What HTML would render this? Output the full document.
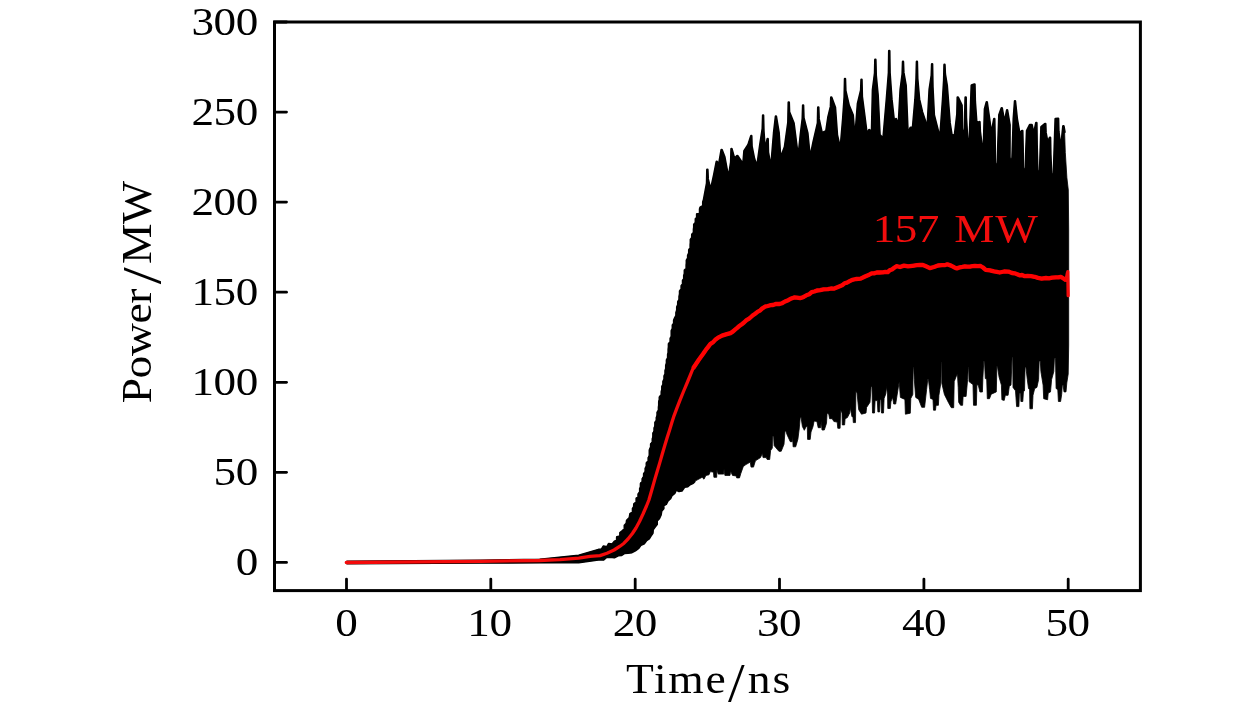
<!DOCTYPE html>
<html lang="en"><head><meta charset="utf-8"><title>Power vs Time</title>
<style>
html,body{margin:0;padding:0;background:#fff;}
body{width:1260px;height:709px;overflow:hidden;}
svg{display:block;}
text{font-family:"Liberation Serif","DejaVu Serif",serif;fill:#000;}
</style></head><body>
<svg width="1260" height="709" viewBox="0 0 1260 709">
<rect width="1260" height="709" fill="#fff"/>
<polygon points="346.5,561.6 480.0,560.6 540.0,559.4 578.7,555.5 598.5,549.6 601.6,549.2 603.4,546.2 607.1,547.0 608.7,543.7 612.3,544.2 614.3,541.7 616.8,540.2 616.9,537.0 620.1,536.1 620.1,532.7 622.2,531.0 624.5,528.9 624.5,525.5 626.4,523.4 626.8,520.5 629.5,517.7 630.1,513.8 632.7,512.0 632.7,508.6 633.9,506.8 634.0,504.0 636.4,502.0 636.4,498.3 638.3,497.0 638.3,494.0 639.9,491.8 639.9,488.4 640.9,486.7 640.9,483.5 642.7,481.8 642.7,478.8 644.0,476.7 644.0,474.0 645.7,471.6 645.7,468.2 646.8,466.2 646.8,463.0 648.7,461.0 648.7,457.7 649.8,455.6 649.8,452.4 649.8,449.9 651.0,447.3 651.0,444.3 652.8,442.0 652.8,438.7 653.4,436.4 653.4,433.2 654.6,431.0 654.6,428.0 655.4,425.6 655.4,422.5 656.8,420.5 656.8,417.5 657.6,415.4 657.6,412.3 658.9,410.3 658.9,407.1 659.1,405.0 659.1,401.9 659.8,399.8 659.8,396.9 661.6,394.8 661.6,391.8 662.2,389.6 662.2,386.6 663.3,384.4 663.3,381.6 664.4,379.2 664.4,376.0 665.4,373.9 665.4,370.7 666.1,368.5 666.1,365.3 666.8,363.1 666.8,360.0 668.0,357.8 668.0,354.6 668.5,352.4 668.5,349.3 668.8,347.0 668.8,343.9 670.5,341.7 670.5,338.5 671.6,336.4 671.6,333.3 671.6,330.8 672.7,328.6 672.7,325.2 674.0,323.3 674.0,320.2 675.0,318.0 676.3,315.5 676.3,312.5 677.1,310.1 677.1,307.0 678.1,304.8 678.1,301.8 679.4,299.5 679.4,296.4 679.9,294.1 679.9,291.1 681.5,288.9 681.5,286.0 682.9,283.9 682.9,280.5 684.1,278.8 684.1,275.6 684.7,273.5 684.7,270.4 686.5,268.6 686.5,265.2 686.7,263.2 686.7,260.3 688.0,258.2 688.0,255.4 689.1,253.0 689.1,250.0 690.5,247.9 690.5,244.9 690.7,242.6 690.7,239.7 692.1,237.5 692.1,234.5 693.8,232.5 693.8,229.3 694.1,227.2 694.1,224.4 695.7,222.5 695.7,219.0 697.0,217.4 697.0,214.0 699.9,212.9 699.9,209.1 700.4,207.4 703.1,205.6 703.1,202.0 703.8,200.0 706.9,183.3 707.2,169.6 707.5,169.6 707.9,178.9 710.7,190.3 714.0,175.0 716.6,161.7 716.9,161.7 718.7,166.0 721.5,149.8 721.8,149.8 724.5,157.0 728.5,178.5 731.0,162.2 731.4,148.8 731.6,148.8 734.4,158.7 737.2,155.8 737.5,155.8 741.3,161.7 742.9,167.6 744.3,150.8 748.2,145.0 751.1,136.0 751.4,136.0 751.7,146.2 754.2,158.7 757.1,166.6 760.1,145.0 762.6,128.7 763.0,115.3 763.2,115.3 763.6,131.3 765.0,150.8 767.5,139.0 767.8,139.0 768.1,152.3 771.0,168.6 773.9,133.0 775.8,116.3 776.0,116.3 778.8,133.0 780.4,158.7 784.8,146.9 788.2,122.4 788.6,102.4 788.9,102.4 789.2,111.8 793.7,123.2 798.2,158.7 800.6,135.0 802.6,118.7 803.0,105.4 803.2,105.4 803.6,117.8 807.5,133.0 810.0,158.7 813.4,141.9 817.8,122.9 818.1,107.4 818.4,107.4 818.8,118.9 821.9,133.0 826.2,131.0 828.2,117.3 830.8,106.4 831.1,97.5 831.4,97.5 835.1,107.4 837.1,135.0 840.4,149.8 843.0,119.2 844.5,97.0 844.9,78.8 845.1,78.8 845.5,90.8 848.9,105.4 852.9,115.3 854.9,141.0 857.8,103.4 861.0,90.3 861.4,79.6 861.6,79.6 862.0,96.6 864.7,117.3 866.9,134.8 869.1,129.9 869.4,129.9 871.8,132.8 872.8,89.8 874.9,73.2 875.2,59.7 875.5,59.7 875.9,75.7 877.8,95.3 879.7,134.8 883.3,138.7 886.7,99.2 888.8,72.6 889.1,50.9 889.4,50.9 889.7,72.6 891.6,99.2 894.0,121.0 895.9,119.0 896.1,119.0 898.5,126.9 900.5,89.4 902.5,74.2 902.9,61.7 903.1,61.7 903.5,72.4 905.8,85.4 907.8,134.8 910.4,127.9 912.9,126.9 915.3,99.2 916.4,78.6 916.8,61.7 917.0,61.7 917.4,78.6 919.2,99.2 922.2,112.1 925.2,121.0 927.1,133.8 929.5,89.4 931.6,75.5 932.0,64.1 932.2,64.1 932.6,87.0 934.0,115.0 938.0,130.8 940.0,139.7 942.9,99.2 944.0,80.2 944.4,64.7 944.6,64.7 945.0,74.0 946.9,85.4 949.8,122.9 951.8,135.8 954.8,134.8 957.2,114.2 957.6,97.3 957.9,97.3 961.7,105.2 962.4,127.8 962.5,130.8 964.9,130.8 965.1,127.8 965.1,112.4 965.5,97.3 965.8,97.3 966.1,117.7 967.6,142.7 969.0,156.5 971.6,85.4 974.4,84.4 974.6,84.4 975.0,101.7 976.5,122.9 979.4,122.0 979.6,122.0 980.0,131.3 981.4,142.7 983.4,157.5 984.8,109.1 986.6,102.2 986.9,102.2 989.3,119.0 991.3,134.8 994.1,119.0 994.4,119.0 994.8,139.4 994.9,161.4 995.1,164.4 997.5,164.4 997.6,161.4 999.2,115.0 1001.6,108.1 1001.9,108.1 1004.5,122.9 1007.0,110.1 1007.2,110.1 1009.7,124.9 1009.6,156.5 1009.8,159.5 1012.2,159.5 1012.4,156.5 1013.6,119.0 1014.9,101.2 1015.1,101.2 1017.0,119.0 1019.6,133.8 1022.1,130.8 1022.4,130.8 1022.8,148.1 1022.9,166.3 1023.1,169.3 1025.5,169.3 1025.6,166.3 1026.9,130.8 1029.8,124.9 1031.8,124.9 1033.8,134.8 1036.1,122.9 1036.5,122.9 1036.8,144.7 1037.4,168.3 1037.5,171.3 1039.9,171.3 1040.0,168.3 1041.3,126.9 1045.0,123.9 1045.4,123.9 1045.7,132.4 1047.6,142.7 1049.8,137.7 1050.2,137.7 1050.5,154.2 1051.2,171.3 1051.3,174.3 1053.7,174.3 1053.8,171.3 1055.5,119.0 1057.8,118.6 1058.2,118.6 1058.5,131.2 1060.4,146.6 1061.8,140.0 1063.2,126.1 1063.6,126.1 1064.6,132.0 1065.3,152.4 1066.9,177.8 1068.3,190.0 1068.7,230.0 1068.7,345.0 1068.2,374.0 1066.8,382.9 1066.0,391.9 1064.0,391.9 1063.1,385.1 1062.3,385.1 1061.7,394.2 1060.6,401.5 1058.4,401.5 1057.8,389.7 1056.1,388.5 1055.5,358.6 1054.4,358.6 1053.8,371.6 1051.6,379.5 1050.5,391.9 1048.2,393.0 1047.6,399.8 1043.7,398.7 1043.1,385.1 1040.9,371.6 1040.3,360.9 1039.2,360.9 1038.6,379.5 1036.9,387.4 1034.7,388.5 1033.0,395.3 1032.4,408.8 1029.9,408.8 1029.6,389.7 1028.5,388.5 1027.3,379.5 1025.9,367.1 1025.1,367.1 1024.5,390.8 1023.4,391.9 1022.8,401.5 1020.9,401.5 1020.6,393.0 1019.4,393.0 1018.9,406.6 1016.6,406.6 1015.5,390.8 1013.0,387.4 1012.7,356.9 1012.1,356.9 1011.0,385.1 1009.3,386.3 1008.1,395.3 1005.3,395.3 1004.2,400.4 1001.9,399.8 1001.4,385.1 999.1,377.2 997.4,366.0 996.9,366.0 996.3,391.9 991.2,394.2 989.5,398.7 987.3,398.7 986.7,379.0 985.3,378.6 984.5,360.9 983.8,360.9 982.9,377.6 982.4,392.0 979.9,392.0 978.4,385.5 976.9,384.6 976.4,405.3 973.5,405.3 973.0,384.6 969.0,381.6 968.8,367.8 968.3,367.8 967.6,379.6 966.1,396.4 963.1,396.4 962.6,405.3 960.6,405.3 958.7,402.3 958.2,387.5 957.5,374.7 956.9,374.7 954.2,381.6 953.7,407.7 951.3,407.7 948.3,402.3 944.4,394.4 941.9,383.6 941.7,362.8 941.2,362.8 940.9,382.6 938.9,395.4 938.4,405.3 936.0,405.3 935.5,410.2 933.5,410.2 933.0,399.4 930.5,398.4 929.6,389.5 928.4,379.1 927.8,379.1 926.6,389.5 924.6,407.3 921.7,407.3 918.7,399.4 915.7,397.4 914.3,379.6 913.7,367.8 913.1,367.8 912.8,394.4 910.8,398.4 910.3,413.2 905.4,414.2 904.9,399.4 900.4,397.4 899.2,381.6 898.8,384.3 897.1,395.0 895.7,404.0 893.7,404.0 892.6,397.2 890.9,401.8 890.3,408.5 887.8,408.5 887.5,393.9 886.3,386.5 885.8,393.9 884.1,398.4 883.5,413.0 881.5,413.0 881.0,399.5 880.1,399.5 879.6,411.9 877.9,411.9 877.3,400.6 875.1,400.6 874.5,413.0 872.5,413.0 872.0,386.5 871.1,386.5 870.0,402.3 866.6,407.4 866.0,413.0 861.5,414.2 858.7,409.7 857.0,392.7 855.9,391.6 855.5,422.6 853.3,422.6 853.0,417.6 851.9,416.4 850.2,407.4 849.7,413.0 847.4,417.6 845.1,418.7 844.6,424.9 842.3,424.9 842.0,413.0 840.6,409.7 840.1,428.3 837.8,428.3 837.2,422.1 833.9,421.5 832.2,418.7 829.6,418.7 828.8,414.2 827.1,413.0 826.5,423.2 824.3,430.0 822.0,430.0 821.2,421.0 820.6,427.7 818.2,427.7 816.9,421.5 814.1,421.0 813.0,426.6 811.0,432.0 810.2,439.4 807.6,439.4 807.3,426.5 806.2,426.5 804.3,430.3 802.4,426.5 801.1,417.6 800.2,417.6 799.2,429.0 797.9,439.2 795.7,446.8 793.1,446.8 792.6,434.8 792.2,441.7 790.3,441.7 787.1,434.8 785.9,431.0 785.0,431.0 784.0,444.3 781.2,451.3 778.9,451.3 774.1,445.6 773.6,436.0 772.5,436.0 772.3,448.1 770.6,450.6 769.7,459.5 767.2,459.5 766.2,457.6 763.0,457.6 762.4,453.2 760.5,457.6 755.4,460.8 753.5,467.1 751.0,467.1 750.3,462.1 745.9,464.6 743.3,466.5 740.8,473.5 739.5,477.9 736.7,477.9 736.3,476.0 732.5,475.4 730.6,471.0 730.0,475.4 724.9,475.4 724.0,469.0 723.7,474.1 718.2,474.1 716.9,469.7 716.7,477.3 713.9,477.3 713.5,472.2 710.3,471.6 709.0,474.8 705.9,475.4 704.0,479.2 702.1,477.3 695.1,481.1 693.2,483.0 690.0,484.5 687.7,486.6 684.6,486.9 681.8,490.8 679.0,491.3 676.2,489.9 674.7,493.2 671.9,495.4 670.4,498.6 667.7,501.0 666.1,504.2 663.6,505.5 663.6,508.6 661.5,511.0 660.9,514.9 659.2,518.5 657.0,520.9 657.0,524.5 655.0,527.0 653.0,529.7 652.7,533.2 650.8,536.0 649.1,538.7 646.5,540.5 644.3,543.5 640.9,545.0 638.6,548.3 635.3,550.6 631.9,552.5 628.0,553.0 624.6,553.2 621.6,555.3 618.2,555.5 614.3,557.5 610.0,557.0 606.5,557.2 603.6,559.7 600.0,559.6 578.7,562.4 540.0,562.6 480.0,562.8 346.5,563.4" fill="#000" stroke="#000" stroke-width="0.8" stroke-linejoin="round"/>
<polyline points="640.9,486.7 640.9,483.5 642.7,481.8 642.7,478.8 644.0,476.7 644.0,474.0 645.7,471.6 645.7,468.2 646.8,466.2 646.8,463.0 648.7,461.0 648.7,457.7 649.8,455.6 649.8,452.4 649.8,449.9 651.0,447.3 651.0,444.3 652.8,442.0 652.8,438.7 653.4,436.4 653.4,433.2 654.6,431.0 654.6,428.0 655.4,425.6 655.4,422.5 656.8,420.5 656.8,417.5 657.6,415.4 657.6,412.3 658.9,410.3 658.9,407.1 659.1,405.0 659.1,401.9 659.8,399.8 659.8,396.9 661.6,394.8 661.6,391.8 662.2,389.6 662.2,386.6 663.3,384.4 663.3,381.6 664.4,379.2 664.4,376.0 665.4,373.9 665.4,370.7 666.1,368.5 666.1,365.3 666.8,363.1 666.8,360.0 668.0,357.8 668.0,354.6 668.5,352.4 668.5,349.3 668.8,347.0 668.8,343.9 670.5,341.7 670.5,338.5 671.6,336.4 671.6,333.3 671.6,330.8 672.7,328.6 672.7,325.2 674.0,323.3 674.0,320.2 675.0,318.0 676.3,315.5 676.3,312.5 677.1,310.1 677.1,307.0 678.1,304.8 678.1,301.8 679.4,299.5 679.4,296.4 679.9,294.1 679.9,291.1 681.5,288.9 681.5,286.0 682.9,283.9 682.9,280.5 684.1,278.8 684.1,275.6 684.7,273.5 684.7,270.4 686.5,268.6 686.5,265.2 686.7,263.2 686.7,260.3 688.0,258.2 688.0,255.4 689.1,253.0 689.1,250.0 690.5,247.9 690.5,244.9 690.7,242.6 690.7,239.7 692.1,237.5 692.1,234.5 693.8,232.5 693.8,229.3 694.1,227.2 694.1,224.4 695.7,222.5 695.7,219.0 697.0,217.4 697.0,214.0 699.9,212.9 699.9,209.1 700.4,207.4 703.1,205.6 703.1,202.0 703.8,200.0 706.9,183.3 707.2,169.6 707.5,169.6 707.9,178.9 710.7,190.3 714.0,175.0 716.6,161.7 716.9,161.7 718.7,166.0 721.5,149.8 721.8,149.8 724.5,157.0 728.5,178.5 731.0,162.2 731.4,148.8 731.6,148.8 734.4,158.7 737.2,155.8 737.5,155.8 741.3,161.7 742.9,167.6 744.3,150.8 748.2,145.0 751.1,136.0 751.4,136.0 751.7,146.2 754.2,158.7 757.1,166.6 760.1,145.0 762.6,128.7 763.0,115.3 763.2,115.3 763.6,131.3 765.0,150.8 767.5,139.0 767.8,139.0 768.1,152.3 771.0,168.6 773.9,133.0 775.8,116.3 776.0,116.3 778.8,133.0 780.4,158.7 784.8,146.9 788.2,122.4 788.6,102.4 788.9,102.4 789.2,111.8 793.7,123.2 798.2,158.7 800.6,135.0 802.6,118.7 803.0,105.4 803.2,105.4 803.6,117.8 807.5,133.0 810.0,158.7 813.4,141.9 817.8,122.9 818.1,107.4 818.4,107.4 818.8,118.9 821.9,133.0 826.2,131.0 828.2,117.3 830.8,106.4 831.1,97.5 831.4,97.5 835.1,107.4 837.1,135.0 840.4,149.8 843.0,119.2 844.5,97.0 844.9,78.8 845.1,78.8 845.5,90.8 848.9,105.4 852.9,115.3 854.9,141.0 857.8,103.4 861.0,90.3 861.4,79.6 861.6,79.6 862.0,96.6 864.7,117.3 866.9,134.8 869.1,129.9 869.4,129.9 871.8,132.8 872.8,89.8 874.9,73.2 875.2,59.7 875.5,59.7 875.9,75.7 877.8,95.3 879.7,134.8 883.3,138.7 886.7,99.2 888.8,72.6 889.1,50.9 889.4,50.9 889.7,72.6 891.6,99.2 894.0,121.0 895.9,119.0 896.1,119.0 898.5,126.9 900.5,89.4 902.5,74.2 902.9,61.7 903.1,61.7 903.5,72.4 905.8,85.4 907.8,134.8 910.4,127.9 912.9,126.9 915.3,99.2 916.4,78.6 916.8,61.7 917.0,61.7 917.4,78.6 919.2,99.2 922.2,112.1 925.2,121.0 927.1,133.8 929.5,89.4 931.6,75.5 932.0,64.1 932.2,64.1 932.6,87.0 934.0,115.0 938.0,130.8 940.0,139.7 942.9,99.2 944.0,80.2 944.4,64.7 944.6,64.7 945.0,74.0 946.9,85.4 949.8,122.9 951.8,135.8 954.8,134.8 957.2,114.2 957.6,97.3 957.9,97.3 961.7,105.2 962.4,127.8 962.5,130.8 964.9,130.8 965.1,127.8 965.1,112.4 965.5,97.3 965.8,97.3 966.1,117.7 967.6,142.7 969.0,156.5 971.6,85.4 974.4,84.4 974.6,84.4 975.0,101.7 976.5,122.9 979.4,122.0 979.6,122.0 980.0,131.3 981.4,142.7 983.4,157.5 984.8,109.1 986.6,102.2 986.9,102.2 989.3,119.0 991.3,134.8 994.1,119.0 994.4,119.0 994.8,139.4 994.9,161.4 995.1,164.4 997.5,164.4 997.6,161.4 999.2,115.0 1001.6,108.1 1001.9,108.1 1004.5,122.9 1007.0,110.1 1007.2,110.1 1009.7,124.9 1009.6,156.5 1009.8,159.5 1012.2,159.5 1012.4,156.5 1013.6,119.0 1014.9,101.2 1015.1,101.2 1017.0,119.0 1019.6,133.8 1022.1,130.8 1022.4,130.8 1022.8,148.1 1022.9,166.3 1023.1,169.3 1025.5,169.3 1025.6,166.3 1026.9,130.8 1029.8,124.9 1031.8,124.9 1033.8,134.8 1036.1,122.9 1036.5,122.9 1036.8,144.7 1037.4,168.3 1037.5,171.3 1039.9,171.3 1040.0,168.3 1041.3,126.9 1045.0,123.9 1045.4,123.9 1045.7,132.4 1047.6,142.7 1049.8,137.7 1050.2,137.7 1050.5,154.2 1051.2,171.3 1051.3,174.3 1053.7,174.3 1053.8,171.3 1055.5,119.0 1057.8,118.6 1058.2,118.6 1058.5,131.2 1060.4,146.6 1061.8,140.0 1063.2,126.1 1063.6,126.1 1064.6,132.0" fill="none" stroke="#000" stroke-width="2.3" stroke-linejoin="round" stroke-linecap="round"/>
<polyline points="346.5,561.6 480.0,560.6 540.0,559.4 578.7,555.5 598.5,549.6 601.6,549.2 603.4,546.2 607.1,547.0 608.7,543.7 612.3,544.2 614.3,541.7 616.8,540.2 616.9,537.0 620.1,536.1 620.1,532.7 622.2,531.0 624.5,528.9 624.5,525.5 626.4,523.4 626.8,520.5 629.5,517.7 630.1,513.8 632.7,512.0 632.7,508.6 633.9,506.8 634.0,504.0 636.4,502.0 636.4,498.3 638.3,497.0 638.3,494.0 639.9,491.8 639.9,488.4 640.9,486.7 640.9,483.5 642.7,481.8 642.7,478.8 644.0,476.7 644.0,474.0 645.7,471.6 645.7,468.2 646.8,466.2 646.8,463.0 648.7,461.0 648.7,457.7 649.8,455.6 649.8,452.4 649.8,449.9 651.0,447.3 651.0,444.3 652.8,442.0 652.8,438.7 653.4,436.4 653.4,433.2 654.6,431.0 654.6,428.0 655.4,425.6 655.4,422.5 656.8,420.5 656.8,417.5 657.6,415.4 657.6,412.3 658.9,410.3 658.9,407.1 659.1,405.0 659.1,401.9 659.8,399.8 659.8,396.9" fill="none" stroke="#000" stroke-width="2" stroke-linejoin="round"/>
<polyline points="346.5,563.4 480.0,562.8 540.0,562.6 578.7,562.4 600.0,559.6 603.6,559.7 606.5,557.2 610.0,557.0 614.3,557.5 618.2,555.5 621.6,555.3 624.6,553.2 628.0,553.0 631.9,552.5 635.3,550.6 638.6,548.3 640.9,545.0 644.3,543.5 646.5,540.5 649.1,538.7 650.8,536.0 652.7,533.2 653.0,529.7 655.0,527.0 657.0,524.5 657.0,520.9 659.2,518.5 660.9,514.9 661.5,511.0 663.6,508.6 663.6,505.5 666.1,504.2 667.7,501.0 670.4,498.6 671.9,495.4 674.7,493.2 676.2,489.9 679.0,491.3 681.8,490.8 684.6,486.9 687.7,486.6 690.0,484.5 693.2,483.0 695.1,481.1" fill="none" stroke="#000" stroke-width="2" stroke-linejoin="round"/>
<polyline points="346.3,562.5 480.0,561.4 539.2,560.5 560.0,559.6 578.7,558.1 590.0,556.4 600.0,555.6 607.0,553.2 614.1,550.0 620.0,546.2 624.0,543.2 628.0,539.0 632.4,533.5 636.0,528.0 639.5,521.5 643.0,514.0 646.5,506.0 648.9,500.0 651.8,490.0 654.8,479.4 657.3,471.0 659.8,462.6 662.2,454.2 664.7,445.8 667.2,437.6 669.6,430.0 672.0,422.0 674.0,415.8 677.0,407.8 679.9,400.3 683.5,391.5 687.7,381.5 693.0,368.5 699.0,359.5 703.0,354.0 704.9,351.2 706.8,348.6 708.6,346.3 710.5,343.8 712.9,342.4 715.2,339.8 718.7,337.3 722.0,335.6 726.0,334.4 730.5,333.1 732.8,331.6 734.8,329.8 736.9,328.1 738.9,326.3 741.5,324.5 744.0,322.5 746.5,320.2 749.1,318.7 751.0,317.0 753.0,315.2 755.2,313.7 757.5,311.9 759.8,310.7 762.0,308.6 764.9,306.7 767.7,306.0 770.4,305.2 773.0,305.0 776.2,303.9 779.5,304.0 782.2,303.2 785.0,301.5 788.2,300.2 791.4,298.4 794.2,297.4 797.0,297.6 800.1,298.1 803.2,297.2 807.0,295.0 809.4,294.2 811.7,292.1 814.4,291.5 817.0,290.5 820.2,290.1 823.5,289.4 828.0,289.2 830.9,288.5 833.7,288.7 838.0,287.0 842.1,285.3 844.5,283.3 847.0,282.6 849.6,281.2 852.3,279.8 856.0,279.0 860.7,278.6 865.0,276.5 869.2,274.7 871.6,273.4 874.0,273.4 876.7,272.5 879.4,272.5 883.0,272.4 885.4,271.9 887.8,272.1 889.9,270.1 892.0,269.5 894.2,267.8 896.5,266.2 900.0,267.0 904.0,265.6 908.0,266.4 912.4,265.8 917.0,265.2 920.0,265.0 922.9,265.0 926.0,266.3 929.8,268.1 934.0,267.0 938.0,265.5 942.0,265.2 944.6,265.2 947.3,264.3 951.0,265.6 954.0,267.2 956.9,268.4 960.0,267.3 962.4,266.9 964.8,266.4 967.4,266.7 970.0,266.6 972.5,266.2 975.0,265.8 977.8,266.1 980.5,266.0 983.0,267.5 985.7,269.8 990.0,270.4 994.0,271.4 996.9,271.9 999.7,272.5 1004.0,271.5 1008.4,271.6 1012.0,273.0 1014.6,273.3 1017.2,274.2 1019.6,275.3 1022.0,275.0 1024.8,276.2 1027.6,276.0 1031.0,276.2 1034.6,276.8 1038.0,277.9 1041.6,278.6 1046.0,278.0 1049.0,278.3 1052.1,277.7 1056.0,277.4 1058.4,277.4 1060.8,276.8 1063.5,278.5 1066.0,280.3 1067.2,274.0 1067.8,271.6 1068.2,295.7" fill="none" stroke="#f40a0a" stroke-width="3.3" stroke-linejoin="round" stroke-linecap="round"/>
<polyline points="693.0,368.5 699.0,359.5 703.0,354.0 704.9,351.2 706.8,348.6 708.6,346.3 710.5,343.8 712.9,342.4 715.2,339.8 718.7,337.3 722.0,335.6 726.0,334.4 730.5,333.1 732.8,331.6 734.8,329.8 736.9,328.1 738.9,326.3 741.5,324.5 744.0,322.5 746.5,320.2 749.1,318.7 751.0,317.0 753.0,315.2 755.2,313.7 757.5,311.9 759.8,310.7 762.0,308.6 764.9,306.7 767.7,306.0 770.4,305.2 773.0,305.0 776.2,303.9 779.5,304.0 782.2,303.2 785.0,301.5 788.2,300.2 791.4,298.4 794.2,297.4 797.0,297.6 800.1,298.1 803.2,297.2 807.0,295.0 809.4,294.2 811.7,292.1 814.4,291.5 817.0,290.5 820.2,290.1 823.5,289.4 828.0,289.2 830.9,288.5 833.7,288.7 838.0,287.0 842.1,285.3 844.5,283.3 847.0,282.6 849.6,281.2 852.3,279.8 856.0,279.0 860.7,278.6 865.0,276.5 869.2,274.7 871.6,273.4 874.0,273.4 876.7,272.5 879.4,272.5 883.0,272.4 885.4,271.9 887.8,272.1 889.9,270.1 892.0,269.5 894.2,267.8 896.5,266.2 900.0,267.0 904.0,265.6 908.0,266.4 912.4,265.8 917.0,265.2 920.0,265.0 922.9,265.0 926.0,266.3 929.8,268.1 934.0,267.0 938.0,265.5 942.0,265.2 944.6,265.2 947.3,264.3 951.0,265.6 954.0,267.2 956.9,268.4 960.0,267.3 962.4,266.9 964.8,266.4 967.4,266.7 970.0,266.6 972.5,266.2 975.0,265.8 977.8,266.1 980.5,266.0 983.0,267.5 985.7,269.8 990.0,270.4 994.0,271.4 996.9,271.9 999.7,272.5 1004.0,271.5 1008.4,271.6 1012.0,273.0 1014.6,273.3 1017.2,274.2 1019.6,275.3 1022.0,275.0 1024.8,276.2 1027.6,276.0 1031.0,276.2 1034.6,276.8 1038.0,277.9 1041.6,278.6 1046.0,278.0 1049.0,278.3 1052.1,277.7 1056.0,277.4 1058.4,277.4 1060.8,276.8 1063.5,278.5 1066.0,280.3" fill="none" stroke="#fe0202" stroke-width="4.3" stroke-linejoin="round" stroke-linecap="butt"/>
<rect x="274.5" y="22.0" width="865.9" height="568.6" fill="none" stroke="#000" stroke-width="3"/>
<g stroke="#000" stroke-width="2.8" stroke-linecap="round">
<line x1="274.5" y1="562.4" x2="286.5" y2="562.4"/>
<line x1="274.5" y1="472.3" x2="286.5" y2="472.3"/>
<line x1="274.5" y1="382.3" x2="286.5" y2="382.3"/>
<line x1="274.5" y1="292.2" x2="286.5" y2="292.2"/>
<line x1="274.5" y1="202.1" x2="286.5" y2="202.1"/>
<line x1="274.5" y1="112.1" x2="286.5" y2="112.1"/>
<line x1="274.5" y1="22.0" x2="286.5" y2="22.0"/>
<line x1="346.5" y1="590.6" x2="346.5" y2="579.1"/>
<line x1="490.8" y1="590.6" x2="490.8" y2="579.1"/>
<line x1="635.2" y1="590.6" x2="635.2" y2="579.1"/>
<line x1="779.5" y1="590.6" x2="779.5" y2="579.1"/>
<line x1="923.9" y1="590.6" x2="923.9" y2="579.1"/>
<line x1="1068.2" y1="590.6" x2="1068.2" y2="579.1"/>
</g>
<text transform="translate(235.71,575.10) scale(1.115,1)" font-size="40.5" letter-spacing="-0.4">0</text>
<text transform="translate(213.58,485.03) scale(1.115,1)" font-size="40.5" letter-spacing="-0.4">50</text>
<text transform="translate(191.45,394.97) scale(1.115,1)" font-size="40.5" letter-spacing="-0.4">100</text>
<text transform="translate(191.45,304.90) scale(1.115,1)" font-size="40.5" letter-spacing="-0.4">150</text>
<text transform="translate(191.45,214.83) scale(1.115,1)" font-size="40.5" letter-spacing="-0.4">200</text>
<text transform="translate(191.45,124.77) scale(1.115,1)" font-size="40.5" letter-spacing="-0.4">250</text>
<text transform="translate(191.45,34.70) scale(1.115,1)" font-size="40.5" letter-spacing="-0.4">300</text>
<text transform="translate(335.21,635.60) scale(1.115,1)" font-size="40.5" letter-spacing="-0.4">0</text>
<text transform="translate(467.36,635.60) scale(1.115,1)" font-size="40.5" letter-spacing="-0.4">10</text>
<text transform="translate(612.65,635.60) scale(1.115,1)" font-size="40.5" letter-spacing="-0.4">20</text>
<text transform="translate(756.94,635.60) scale(1.115,1)" font-size="40.5" letter-spacing="-0.4">30</text>
<text transform="translate(901.90,635.60) scale(1.115,1)" font-size="40.5" letter-spacing="-0.4">40</text>
<text transform="translate(1045.39,635.60) scale(1.115,1)" font-size="40.5" letter-spacing="-0.4">50</text>
<text transform="translate(625.90,692.90) scale(1.1000,1)" font-size="41.4" letter-spacing="1.631">Time</text>
<text transform="translate(728.00,701.20) scale(1.0876,1)" font-size="55">/</text>
<text transform="translate(747.78,692.90) scale(1.1000,1)" font-size="41.4" letter-spacing="1.820">ns</text>
<text transform="translate(151.00,403.37) rotate(-90) scale(1.1000,1)" font-size="41.4" letter-spacing="-0.352">Power</text>
<text transform="translate(159.70,284.20) rotate(-90) scale(1.1073,1)" font-size="55">/</text>
<text transform="translate(151.00,263.97) rotate(-90) scale(1.1000,1)" font-size="41.4" letter-spacing="-0.442">MW</text>
<text transform="translate(872.65,242.30) scale(1.1000,1)" font-size="41" letter-spacing="-0.432" style="fill:#f20d0d">157</text>
<text transform="translate(954.35,242.30) scale(1.1000,1)" font-size="41" letter-spacing="0.734" style="fill:#f20d0d">MW</text>
</svg></body></html>
